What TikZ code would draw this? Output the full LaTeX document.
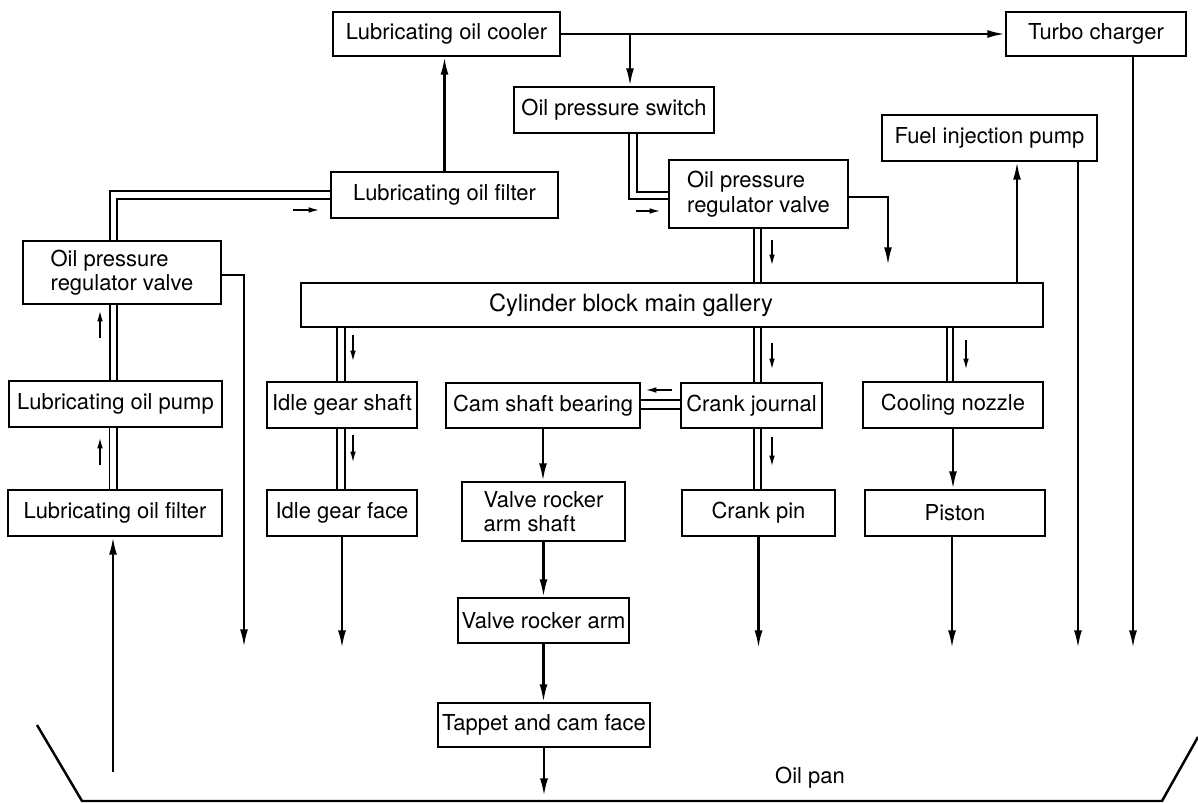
\documentclass[tikz,border=0pt]{standalone}
\usepackage{fontspec}
\setmainfont{TeX Gyre Heros}
\usetikzlibrary{arrows.meta}

\begin{document}
\begin{tikzpicture}[x=0.02cm,y=-0.02cm,
  blk/.style={draw,line width=1.2pt,inner sep=2pt,minimum height=0.92cm,font=\fontsize{12.5}{14}\selectfont,align=center},
  flow/.style={line width=1.3pt,-{Latex[length=10pt,width=4.5pt]}},
  pipe/.style={line width=1.1pt},
  tick/.style={line width=1pt,-{Latex[length=6.5pt,width=3.2pt]}}]

\useasboundingbox (0,0) rectangle (1198,803);

% boxes
\node[blk,minimum width=4.54cm,minimum height=0.88cm] (cooler) at (446.5,34) {Lubricating oil cooler};
\node[blk,minimum width=3.6cm,minimum height=0.88cm] (turbo) at (1096,34) {Turbo charger};
\node[blk,minimum width=4cm] (opswitch) at (614,110) {Oil pressure switch};
\node[blk,minimum width=4.3cm] (fuelpump) at (989.5,138) {Fuel injection pump};
\node[blk,minimum width=4.54cm] (filtertop) at (444.5,195) {Lubricating oil filter};
\node[blk,minimum width=3.58cm,minimum height=1.36cm,align=left] (regright) at (758.5,194) {Oil pressure\\regulator valve};
\node[blk,minimum width=3.96cm,minimum height=1.26cm,align=left] (regleft) at (122,272.5) {Oil pressure\\regulator valve};
\node[blk,minimum width=14.84cm,minimum height=0.88cm] (gallery) at (672,305) {};
\node[font=\fontsize{13.5}{15}\selectfont] (gallerylabel) at (631,305) {Cylinder block main gallery};
\node[blk,minimum width=4.26cm] (oilpump) at (115.5,404) {Lubricating oil pump};
\node[blk,minimum width=3cm] (idleshaft) at (342,405) {Idle gear shaft};
\node[blk,minimum width=3.88cm,minimum height=0.9cm] (camshaft) at (543,405.5) {Cam shaft bearing};
\node[blk,minimum width=2.82cm,minimum height=0.9cm] (crankjournal) at (751.5,405.5) {Crank journal};
\node[blk,minimum width=3.6cm] (nozzle) at (953,405) {Cooling nozzle};
\node[blk,minimum width=4.28cm] (filterbot) at (115,513) {Lubricating oil filter};
\node[blk,minimum width=3cm] (idleface) at (342,513) {Idle gear face};
\node[blk,minimum width=3.26cm,minimum height=1.18cm,align=left] (rockershaft) at (543.5,511.5) {Valve rocker\\arm shaft};
\node[blk,minimum width=3.06cm] (crankpin) at (758.5,513) {Crank pin};
\node[blk,minimum width=3.6cm] (piston) at (955,513) {Piston};
\node[blk,minimum width=3.26cm,minimum height=0.9cm] (rockerarm) at (543.5,620.5) {Valve rocker arm};
\node[blk,minimum width=4.24cm,minimum height=0.88cm] (tappet) at (544,725) {Tappet and cam face};

% oil pan
\draw[line width=1.4pt] (37,725) -- (82,801) -- (1162,801) -- (1198,737);
\node[font=\fontsize{12.5}{14}\selectfont] (panlabel) at (810,778) {Oil pan};
\coordinate (intake) at (113,772);

% single lines
\draw[flow] (intake) -- (intake |- filterbot.south);
\draw[flow] (filtertop.north) -- (filtertop.north |- cooler.south);
\draw[flow] (cooler.east) -- (turbo.west);
\draw[flow] ([xshift=0.32cm]opswitch.north |- cooler.east) -- ([xshift=0.32cm]opswitch.north);
\draw[flow] ([yshift=-0.06cm]regright.east) -| (888,265);
\draw[flow] ([xshift=0.55cm]fuelpump.south |- gallery.north) -- ([xshift=0.55cm]fuelpump.south);
\draw[flow] ([xshift=1.77cm]fuelpump.south) -- ++(0,486);
\draw[flow] ([xshift=0.74cm]turbo.south) -- ++(0,591);
\draw[flow] ([yshift=-0.05cm]regleft.east) -| (244,647);
\draw[flow] (idleface.south) -- ++(0,111);
\draw[flow] (crankpin.south) -- ++(0,111);
\draw[flow] (nozzle.south) -- (nozzle.south |- piston.north);
\draw[flow] ([xshift=-0.06cm]piston.south) -- ++(0,111);
\draw[flow] (camshaft.south) -- (camshaft.south |- rockershaft.north);
\draw[flow] (rockershaft.south) -- (rockerarm.north);
\draw[flow] (rockerarm.south) -- (rockerarm.south |- tappet.north);
\draw[flow] (tappet.south) -- ++(0,48);

% double lines
\draw[pipe] ([xshift=-0.11cm]filterbot.north) -- ([xshift=-0.11cm]filterbot.north |- oilpump.south);
\draw[pipe] ([xshift=0.04cm]filterbot.north) -- ([xshift=0.04cm]filterbot.north |- oilpump.south);
\draw[pipe] ([xshift=-0.11cm]oilpump.north) -- ([xshift=-0.11cm]oilpump.north |- regleft.south);
\draw[pipe] ([xshift=0.03cm]oilpump.north) -- ([xshift=0.03cm]oilpump.north |- regleft.south);
\draw[pipe] ([xshift=-0.24cm]regleft.north) |- ([yshift=0.08cm]filtertop.west);
\draw[pipe] ([xshift=-0.1cm]regleft.north) |- ([yshift=-0.08cm]filtertop.west);
\draw[pipe] ([xshift=0.3cm]opswitch.south) |- ([yshift=-0.1cm]regright.west);
\draw[pipe] ([xshift=0.46cm]opswitch.south) |- ([yshift=0.04cm]regright.west);
\draw[pipe] ([xshift=-0.09cm]regright.south) -- ([xshift=-0.09cm]regright.south |- gallery.north);
\draw[pipe] ([xshift=0.05cm]regright.south) -- ([xshift=0.05cm]regright.south |- gallery.north);
\draw[pipe] ([xshift=-0.1cm]idleshaft.north) -- ([xshift=-0.1cm]idleshaft.north |- gallery.south);
\draw[pipe] ([xshift=0.06cm]idleshaft.north) -- ([xshift=0.06cm]idleshaft.north |- gallery.south);
\draw[pipe] ([xshift=-0.1cm]idleshaft.south) -- ([xshift=-0.1cm]idleshaft.south |- idleface.north);
\draw[pipe] ([xshift=0.06cm]idleshaft.south) -- ([xshift=0.06cm]idleshaft.south |- idleface.north);
\draw[pipe] ([xshift=0.05cm]crankjournal.north) -- ([xshift=0.05cm]crankjournal.north |- gallery.south);
\draw[pipe] ([xshift=0.19cm]crankjournal.north) -- ([xshift=0.19cm]crankjournal.north |- gallery.south);
\draw[pipe] ([xshift=0.05cm]crankjournal.south) -- ([xshift=0.05cm]crankjournal.south |- crankpin.north);
\draw[pipe] ([xshift=0.19cm]crankjournal.south) -- ([xshift=0.19cm]crankjournal.south |- crankpin.north);
\draw[pipe] ([xshift=-0.12cm]nozzle.north) -- ([xshift=-0.12cm]nozzle.north |- gallery.south);
\draw[pipe] (nozzle.north) -- (nozzle.north |- gallery.south);
\draw[pipe] ([yshift=0.11cm]crankjournal.west) -- ([yshift=0.11cm]camshaft.east);
\draw[pipe] ([yshift=-0.07cm]crankjournal.west) -- ([yshift=-0.07cm]camshaft.east);

% small flow marks
\draw[tick] (100,465) -- (100,437);
\draw[tick] (100,338) -- (100,310);
\draw[tick] (293,210) -- (320,210);
\draw[tick] (636,211) -- (661,211);
\draw[tick] (772,240) -- (772,266);
\draw[tick] (353,335) -- (353,362);
\draw[tick] (353,435) -- (353,463);
\draw[tick] (772,343) -- (772,370);
\draw[tick] (772,437) -- (772,467);
\draw[tick] (966,340) -- (966,370);
\draw[tick] (672,390) -- (645,390);
\end{tikzpicture}
\end{document}
